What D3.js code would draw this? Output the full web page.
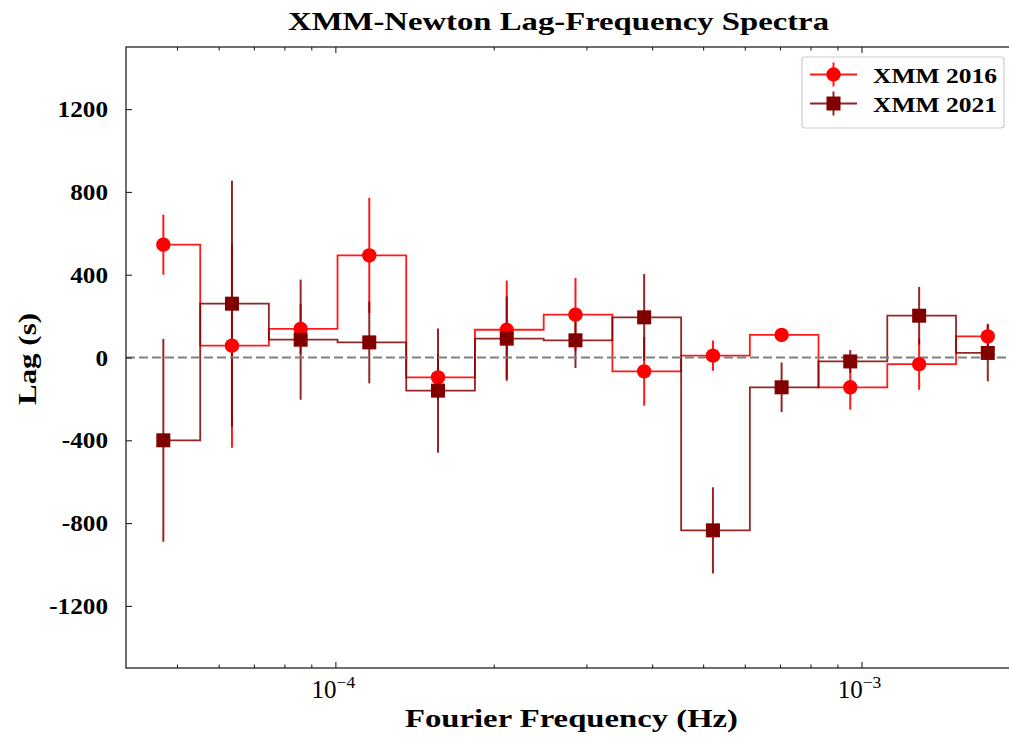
<!DOCTYPE html>
<html><head><meta charset="utf-8">
<script src="https://cdn.jsdelivr.net/npm/d3@7"></script>
<style>body{margin:0;background:#fff}svg{display:block}</style>
</head><body>
<svg id="c" width="1009" height="737"></svg>
<script>
// ---- data ----
const freqs   = [4.71e-5, 6.36e-5, 8.59e-5, 1.16e-4, 1.567e-4, 2.117e-4, 2.86e-4, 3.863e-4, 5.22e-4, 7.05e-4, 9.52e-4, 1.287e-3, 1.738e-3];
const lag2016 = [545, 57, 138, 493, -96, 134, 207, -67, 9, 109, -144, -32, 102];
const err2016 = [145, 493, 120, 278, 110, 238, 177, 166, 73, 25, 108, 124, 61];
const lag2021 = [-400, 260, 86, 73, -160, 91, 83, 194, -835, -144, -19, 202, 22];
const err2021 = [490, 594, 290, 198, 300, 204, 134, 209, 208, 120, 55, 139, 137];
const yTicks = [-1200, -800, -400, 0, 400, 800, 1200];
const xMajorTicks = [1e-4, 1e-3];
const xMajorExp = ["\u22124", "\u22123"];
const xMinorTicks = [5e-5, 6e-5, 7e-5, 8e-5, 9e-5, 2e-4, 3e-4, 4e-4, 5e-4, 6e-4, 7e-4, 8e-4, 9e-4];
const seriesNames = ["XMM 2016", "XMM 2021"];
const titleText = "XMM-Newton Lag-Frequency Spectra";
const xLabelText = "Fourier Frequency (Hz)";
const yLabelText = "Lag (s)";

// ---- layout ----
const L = 126, R = 1017, T = 47, B = 668;
const FONT = "'Liberation Serif','Times New Roman',serif";
const RED = "#ff0000", DARK = "#800000";

const svg = d3.select("#c");
svg.append("rect").attr("width", 1009).attr("height", 737).attr("fill", "#fff");

const x = d3.scaleLog().domain([4.0e-5, 1.975e-3]).range([L, R]);
const y = d3.scaleLinear().domain([-1500, 1500]).range([B, T]);

svg.append("defs").append("clipPath").attr("id", "pc")
  .append("rect").attr("x", L).attr("y", T).attr("width", R - L).attr("height", B - T);

const plot = svg.append("g").attr("clip-path", "url(#pc)");

function stepPoints(f, v) {
  const pts = [];
  for (let i = 0; i < f.length; i++) {
    if (i === 0) pts.push([f[0], v[0]]);
    else {
      const m = (f[i - 1] + f[i]) / 2;
      pts.push([m, v[i - 1]]);
      pts.push([m, v[i]]);
    }
    if (i === f.length - 1) pts.push([f[i], v[i]]);
  }
  return pts;
}
const line = d3.line().x(d => x(d[0])).y(d => y(d[1]));

function drawSeries(lags, errs, color, op) {
  plot.append("g").selectAll("line").data(freqs).join("line")
    .attr("x1", d => x(d)).attr("x2", d => x(d))
    .attr("y1", (d, i) => y(lags[i] - errs[i]))
    .attr("y2", (d, i) => y(lags[i] + errs[i]))
    .attr("stroke", color).attr("stroke-opacity", op).attr("stroke-width", 2);
  plot.append("path").attr("d", line(stepPoints(freqs, lags)))
    .attr("fill", "none").attr("stroke", color).attr("stroke-opacity", op).attr("stroke-width", 1.8);
}
drawSeries(lag2016, err2016, RED, 0.9);
drawSeries(lag2021, err2021, DARK, 0.85);

plot.append("line").attr("x1", L).attr("x2", R).attr("y1", y(0)).attr("y2", y(0))
  .attr("stroke", "#808080").attr("stroke-width", 2).attr("stroke-dasharray", "9,4");

plot.append("g").selectAll("circle").data(freqs).join("circle")
  .attr("cx", d => x(d)).attr("cy", (d, i) => y(lag2016[i])).attr("r", 7.2).attr("fill", RED);
plot.append("g").selectAll("rect").data(freqs).join("rect")
  .attr("x", d => x(d) - 7).attr("y", (d, i) => y(lag2021[i]) - 7)
  .attr("width", 14).attr("height", 14).attr("fill", DARK);

// ---- axes (inward ticks) ----
function styleAxis(g) {
  g.select(".domain").remove();
  g.selectAll(".tick line").attr("stroke", "#222").attr("stroke-width", 1.1);
}
svg.append("g").attr("transform", `translate(0,${B})`)
  .call(d3.axisBottom(x).tickValues(xMajorTicks).tickSize(-6).tickFormat(""))
  .call(styleAxis);
svg.append("g").attr("transform", `translate(0,${B})`)
  .call(d3.axisBottom(x).tickValues(xMinorTicks).tickSize(-3.5).tickFormat(""))
  .call(styleAxis);
svg.append("g").attr("transform", `translate(0,${T})`)
  .call(d3.axisTop(x).tickValues(xMajorTicks).tickSize(-6).tickFormat(""))
  .call(styleAxis);
svg.append("g").attr("transform", `translate(0,${T})`)
  .call(d3.axisTop(x).tickValues(xMinorTicks).tickSize(-3.5).tickFormat(""))
  .call(styleAxis);

const yAx = svg.append("g").attr("transform", `translate(${L},0)`)
  .call(d3.axisLeft(y).tickValues(yTicks).tickSize(-6).tickPadding(18)
    .tickFormat(d => d < 0 ? "-" + Math.abs(d) : String(d)))
  .call(styleAxis);
yAx.selectAll(".tick text")
  .attr("font-family", FONT).attr("font-weight", "bold").attr("font-size", 24).attr("fill", "#000")
  .each(function () {
    const w = this.getComputedTextLength();
    d3.select(this).attr("textLength", w * 1.05).attr("lengthAdjust", "spacingAndGlyphs");
  });

// x major labels 10^exp
xMajorTicks.forEach((v, i) => {
  const t = svg.append("text").attr("x", x(v) - 2).attr("y", 698)
    .attr("text-anchor", "middle").attr("font-family", FONT).attr("font-size", 25).attr("fill", "#000");
  t.append("tspan").text("10");
  t.append("tspan").attr("dy", -10).attr("font-size", 17.5).text(xMajorExp[i]);
});

// spines
const sp = svg.append("g").attr("stroke", "#222").attr("stroke-width", 1.3).attr("fill", "none");
sp.append("rect").attr("x", L).attr("y", T).attr("width", R - L).attr("height", B - T);

// ---- texts ----
function fitted(sel, len) {
  sel.attr("textLength", len).attr("lengthAdjust", "spacingAndGlyphs");
  return sel;
}
fitted(svg.append("text").attr("x", 558.5).attr("y", 30).attr("text-anchor", "middle")
  .attr("font-family", FONT).attr("font-weight", "bold").attr("font-size", 25).text(titleText), 541);
fitted(svg.append("text").attr("x", 571.5).attr("y", 727).attr("text-anchor", "middle")
  .attr("font-family", FONT).attr("font-weight", "bold").attr("font-size", 25).text(xLabelText), 333);
fitted(svg.append("text").attr("transform", "translate(36,359) rotate(-90)").attr("text-anchor", "middle")
  .attr("font-family", FONT).attr("font-weight", "bold").attr("font-size", 25).text(yLabelText), 92);

// ---- legend ----
const lg = svg.append("g");
lg.append("rect").attr("x", 802).attr("y", 57).attr("width", 202).attr("height", 71).attr("rx", 3)
  .attr("fill", "#fff").attr("fill-opacity", 0.9).attr("stroke", "#cccccc").attr("stroke-width", 1.2);
const legendRows = [
  {name: seriesNames[0], color: RED, op: 0.9, shape: "circle", cy: 74.5},
  {name: seriesNames[1], color: DARK, op: 0.85, shape: "square", cy: 103.5}
];
legendRows.forEach(r => {
  const g = lg.append("g");
  g.append("line").attr("x1", 810).attr("x2", 857).attr("y1", r.cy).attr("y2", r.cy)
    .attr("stroke", r.color).attr("stroke-opacity", r.op).attr("stroke-width", 2);
  g.append("line").attr("x1", 833.5).attr("x2", 833.5).attr("y1", r.cy - 12).attr("y2", r.cy + 12)
    .attr("stroke", r.color).attr("stroke-opacity", r.op).attr("stroke-width", 2);
  if (r.shape === "circle") g.append("circle").attr("cx", 833.5).attr("cy", r.cy).attr("r", 7.2).attr("fill", r.color);
  else g.append("rect").attr("x", 826.5).attr("y", r.cy - 7).attr("width", 14).attr("height", 14).attr("fill", r.color);
  fitted(g.append("text").attr("x", 873).attr("y", r.cy + 8).attr("font-family", FONT).attr("font-weight", "bold")
    .attr("font-size", 22).attr("fill", "#000").text(r.name), 124);
});
</script>
</body></html>
